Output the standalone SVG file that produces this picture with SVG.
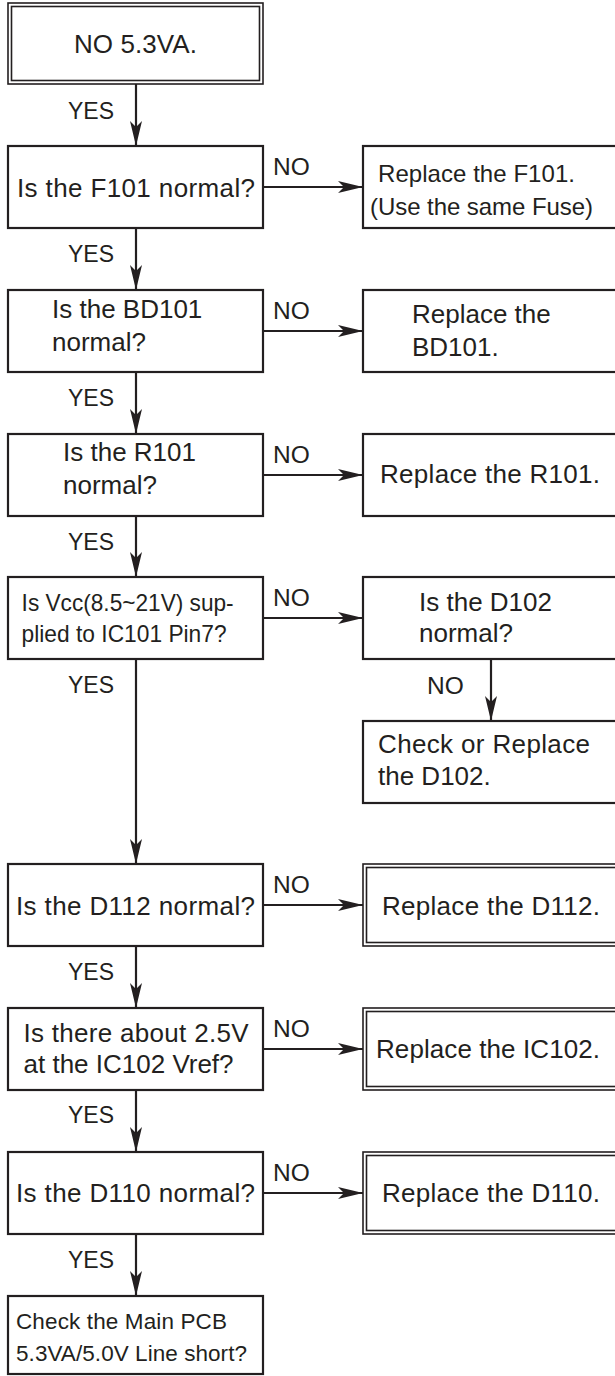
<svg xmlns="http://www.w3.org/2000/svg" width="615" height="1376" viewBox="0 0 615 1376">
<style>
.box{fill:#fff;stroke:#231f20;stroke-width:2.2}
.dbl{fill:none;stroke:#231f20;stroke-width:1.6}
text{font-family:"Liberation Sans",Arial,Helvetica,sans-serif;font-size:26px;fill:#231f20}
.yes{font-size:23px}
.no{font-size:24.5px}
.f24{font-size:24px}
.f22{font-size:22.5px}
.conn line{stroke:#231f20;stroke-width:2.2;marker-end:url(#ah)}
</style>
<defs>
<marker id="ah" markerUnits="userSpaceOnUse" markerWidth="25" markerHeight="12" refX="25" refY="6" orient="auto">
<path d="M0,0 L25,6 L0,12 L6,6 Z" fill="#231f20"/>
</marker>
</defs>

<g id="connectors" class="conn">
<line x1="136" y1="84" x2="136" y2="146"/>
<line x1="136" y1="228" x2="136" y2="290"/>
<line x1="136" y1="372" x2="136" y2="434"/>
<line x1="136" y1="516" x2="136" y2="577"/>
<line x1="136" y1="659" x2="136" y2="864"/>
<line x1="136" y1="946" x2="136" y2="1008"/>
<line x1="136" y1="1090" x2="136" y2="1152"/>
<line x1="136" y1="1234" x2="136" y2="1296"/>
<line x1="263" y1="187" x2="363" y2="187"/>
<line x1="263" y1="331" x2="363" y2="331"/>
<line x1="263" y1="475" x2="363" y2="475"/>
<line x1="263" y1="618" x2="363" y2="618"/>
<line x1="263" y1="905" x2="363" y2="905"/>
<line x1="263" y1="1049" x2="363" y2="1049"/>
<line x1="263" y1="1193" x2="363" y2="1193"/>
<line x1="491" y1="659" x2="491" y2="721"/>
</g>

<g id="labels">
<text class="yes" x="68" y="119">YES</text>
<text class="yes" x="68" y="262">YES</text>
<text class="yes" x="68" y="406">YES</text>
<text class="yes" x="68" y="550">YES</text>
<text class="yes" x="68" y="693">YES</text>
<text class="yes" x="68" y="980">YES</text>
<text class="yes" x="68" y="1123">YES</text>
<text class="yes" x="68" y="1268">YES</text>
<text class="no" x="273" y="175">NO</text>
<text class="no" x="273" y="319">NO</text>
<text class="no" x="273" y="463">NO</text>
<text class="no" x="273" y="606">NO</text>
<text class="no" x="273" y="893">NO</text>
<text class="no" x="273" y="1037">NO</text>
<text class="no" x="273" y="1181">NO</text>
<text class="no" x="427" y="694">NO</text>
</g>

<g id="n-start">
<rect class="dbl" x="8" y="3" width="255" height="81"/>
<rect class="dbl" x="11.5" y="6.5" width="248" height="74"/>
<text x="74" y="52.5" textLength="123">NO 5.3VA.</text>
</g>

<g id="n-f101">
<rect class="box" x="8" y="146" width="255" height="82"/>
<text x="17" y="197" textLength="238">Is the F101 normal?</text>
</g>
<g id="n-f101-fix">
<rect class="box" x="363" y="146" width="260" height="82"/>
<text class="f24" x="378" y="182" textLength="197">Replace the F101.</text>
<text class="f24" x="370" y="215" textLength="223">(Use the same Fuse)</text>
</g>

<g id="n-bd101">
<rect class="box" x="8" y="290" width="255" height="82"/>
<text x="52" y="318">Is the BD101</text>
<text x="52" y="351">normal?</text>
</g>
<g id="n-bd101-fix">
<rect class="box" x="363" y="290" width="260" height="82"/>
<text x="412" y="323">Replace the</text>
<text x="412" y="356">BD101.</text>
</g>

<g id="n-r101">
<rect class="box" x="8" y="434" width="255" height="82"/>
<text x="63" y="461">Is the R101</text>
<text x="63" y="494">normal?</text>
</g>
<g id="n-r101-fix">
<rect class="box" x="363" y="434" width="260" height="82"/>
<text x="380" y="483" textLength="220">Replace the R101.</text>
</g>

<g id="n-vcc">
<rect class="box" x="8" y="577" width="255" height="82"/>
<text class="f24" x="21.6" y="610.7" textLength="212" lengthAdjust="spacingAndGlyphs">Is Vcc(8.5~21V) sup-</text>
<text class="f24" x="21.6" y="641.7" textLength="205" lengthAdjust="spacingAndGlyphs">plied to IC101 Pin7?</text>
</g>
<g id="n-d102">
<rect class="box" x="363" y="577" width="260" height="82"/>
<text x="419" y="610.5">Is the D102</text>
<text x="419" y="641.7">normal?</text>
</g>
<g id="n-d102-fix">
<rect class="box" x="363" y="721" width="260" height="82"/>
<text x="378" y="753" textLength="212">Check or Replace</text>
<text x="378" y="785">the D102.</text>
</g>

<g id="n-d112">
<rect class="box" x="8" y="864" width="255" height="82"/>
<text x="16" y="915" textLength="239">Is the D112 normal?</text>
</g>
<g id="n-d112-fix">
<rect class="dbl" x="363" y="864" width="260" height="82"/>
<rect class="dbl" x="366.5" y="867.5" width="260" height="75"/>
<text x="382" y="915" textLength="218">Replace the D112.</text>
</g>

<g id="n-vref">
<rect class="box" x="8" y="1008" width="255" height="82"/>
<text x="23.5" y="1041.7" textLength="225">Is there about 2.5V</text>
<text x="23.5" y="1073">at the IC102 Vref?</text>
</g>
<g id="n-ic102-fix">
<rect class="dbl" x="363" y="1008" width="260" height="82"/>
<rect class="dbl" x="366.5" y="1011.5" width="260" height="75"/>
<text x="376" y="1058" textLength="224">Replace the IC102.</text>
</g>

<g id="n-d110">
<rect class="box" x="8" y="1152" width="255" height="82"/>
<text x="16" y="1201.7" textLength="239">Is the D110 normal?</text>
</g>
<g id="n-d110-fix">
<rect class="dbl" x="363" y="1152" width="260" height="82"/>
<rect class="dbl" x="366.5" y="1155.5" width="260" height="75"/>
<text x="382" y="1201.7" textLength="218">Replace the D110.</text>
</g>

<g id="n-end">
<rect class="box" x="8" y="1296" width="255" height="78"/>
<text class="f22" x="16" y="1329" textLength="211">Check the Main PCB</text>
<text class="f22" x="16" y="1360.7" textLength="231">5.3VA/5.0V Line short?</text>
</g>
</svg>
